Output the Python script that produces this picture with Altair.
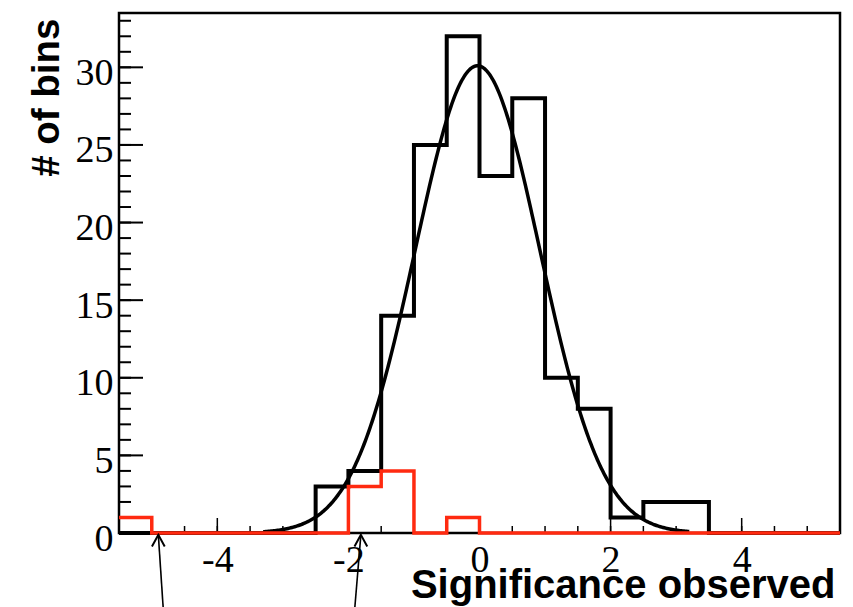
import altair as alt
import pandas as pd

# Histogram bins (lower edges, width 0.5) and the upper edge of the last bin
bin_low = [-5.5, -5.0, -4.5, -4.0, -3.5, -3.0, -2.5, -2.0, -1.5, -1.0, -0.5,
           0.0, 0.5, 1.0, 1.5, 2.0, 2.5, 3.0, 3.5, 4.0, 4.5, 5.0]
x_upper = 5.5

# Entries per bin: all bins (black) and the selected subset (red)
all_counts = [0, 0, 0, 0, 0, 0, 3, 4, 14, 25, 32, 23, 28, 10, 8, 1, 2, 2, 0, 0, 0, 0]
sel_counts = [1, 0, 0, 0, 0, 0, 0, 3, 4, 0, 1, 0, 0, 0, 0, 0, 0, 0, 0, 0, 0, 0]

# Gaussian fit parameters and its drawn range
fit_const = 30.1
fit_mean = -0.03
fit_sigma = 0.95
fit_lo, fit_hi = -3.3, 3.2

# Arrows marking two significance values (tip on the axis, tail below it)
arrow_tip_x = [-4.90, -1.81]
arrow_tail_x = [-4.82, -1.91]
arrow_tip_y = [-0.12, -0.12]
arrow_tail_y = [-5.2, -5.2]

# Axis tick positions
x_major = [-4, -2, 0, 2, 4]
x_minor = [-5.5, -5.0, -4.5, -4.0, -3.5, -3.0, -2.5, -2.0, -1.5, -1.0, -0.5, 0.0,
           0.5, 1.0, 1.5, 2.0, 2.5, 3.0, 3.5, 4.0, 4.5, 5.0, 5.5]
y_major = [0, 5, 10, 15, 20, 25, 30]
y_minor = list(range(0, 34))

W, H = 721, 520
RED = "#ff2a10"
SANS = "Liberation Sans"
SERIF = "Liberation Serif"

xs = alt.Scale(domain=[-5.5, 5.5], nice=False, zero=False)
ys = alt.Scale(domain=[0, 33.5], nice=False, zero=False)


def steps(counts):
    return pd.DataFrame({"x": bin_low + [x_upper], "n": counts + [counts[-1]]})


x_axis = alt.Axis(
    values=x_major, ticks=False, domain=False, grid=False,
    labelFont=SERIF, labelFontSize=38, labelColor="black",
    labelBaseline="alphabetic", labelPadding=38, labelOverlap=False,
    labelFlush=False, labelExpr="'' + datum.value",
    title="Significance observed", titleFont=SANS, titleFontSize=40,
    titleFontWeight="bold", titleColor="black", titleAnchor="end",
    titleAlign="right", titleBaseline="alphabetic", titleX=716, titleY=64,
)
y_axis = alt.Axis(
    values=y_major, ticks=False, domain=False, grid=False,
    labelFont=SERIF, labelFontSize=38, labelColor="black",
    labelAlign="right", labelBaseline="alphabetic", labelPadding=6,
    labelOffset=17, labelOverlap=False, labelFlush=False,
    title="# of bins", titleFont=SANS, titleFontSize=38.5, titleFontWeight="bold",
    titleColor="black", titleAngle=270, titleAlign="right",
    titleBaseline="alphabetic", titleX=-61, titleY=5,
)

all_hist = alt.Chart(steps(all_counts)).mark_line(
    interpolate="step-after", color="black", strokeWidth=4
).encode(
    x=alt.X("x:Q", scale=xs, axis=x_axis),
    y=alt.Y("n:Q", scale=ys, axis=y_axis),
)

# The remaining layers share the scales and leave the axes to the histogram
fit = alt.Chart(alt.sequence(fit_lo, fit_hi + 0.01, 0.02, as_="x")).transform_calculate(
    f=f"{fit_const} * exp(-pow(datum.x - ({fit_mean}), 2) / (2 * {fit_sigma} * {fit_sigma}))"
).mark_line(color="black", strokeWidth=3.5).encode(
    x=alt.X("x:Q", scale=xs),
    y=alt.Y("f:Q", scale=ys),
)

sel_hist = alt.Chart(steps(sel_counts)).mark_line(
    interpolate="step-after", color=RED, strokeWidth=3.5
).encode(
    x=alt.X("x:Q", scale=xs),
    y=alt.Y("n:Q", scale=ys),
)

# Tick marks drawn inside the frame
y_major_ticks = alt.Chart(pd.DataFrame({"v": y_major})).mark_rule(
    color="black", strokeWidth=2
).encode(y=alt.Y("v:Q", scale=ys), x=alt.value(0), x2=alt.value(24))
y_minor_ticks = alt.Chart(pd.DataFrame({"v": y_minor})).mark_rule(
    color="black", strokeWidth=2
).encode(y=alt.Y("v:Q", scale=ys), x=alt.value(0), x2=alt.value(12))
x_major_ticks = alt.Chart(pd.DataFrame({"v": x_major})).mark_rule(
    color="black", strokeWidth=1.5
).encode(x=alt.X("v:Q", scale=xs), y=alt.value(H), y2=alt.value(H - 15))
x_minor_ticks = alt.Chart(pd.DataFrame({"v": x_minor})).mark_rule(
    color="black", strokeWidth=1.5
).encode(x=alt.X("v:Q", scale=xs), y=alt.value(H), y2=alt.value(H - 7))

arrows_df = pd.DataFrame({
    "tx": arrow_tip_x, "ty": arrow_tip_y, "bx": arrow_tail_x, "by": arrow_tail_y,
})
arrow_shafts = alt.Chart(arrows_df).mark_rule(color="black", strokeWidth=1.6).encode(
    x=alt.X("tx:Q", scale=xs), y=alt.Y("ty:Q", scale=ys),
    x2="bx:Q", y2="by:Q",
)
arrow_heads = alt.Chart(arrows_df).mark_point(
    shape="M -0.55 1 L 0 0 L 0.55 1", filled=False, color="black",
    strokeWidth=2, size=540, opacity=1,
).encode(
    x=alt.X("tx:Q", scale=xs), y=alt.Y("ty:Q", scale=ys),
)

chart = alt.layer(
    all_hist, y_minor_ticks, y_major_ticks, x_minor_ticks, x_major_ticks,
    fit, sel_hist, arrow_shafts, arrow_heads,
).properties(
    width=W, height=H,
    autosize=alt.AutoSizeParams(type="none"),
    padding={"left": 119, "top": 13, "right": 13, "bottom": 74},
    background="white",
).configure_view(
    stroke="black", strokeWidth=2.5,
)

chart.save("out.html", embed_options={"renderer": "svg", "actions": False})
